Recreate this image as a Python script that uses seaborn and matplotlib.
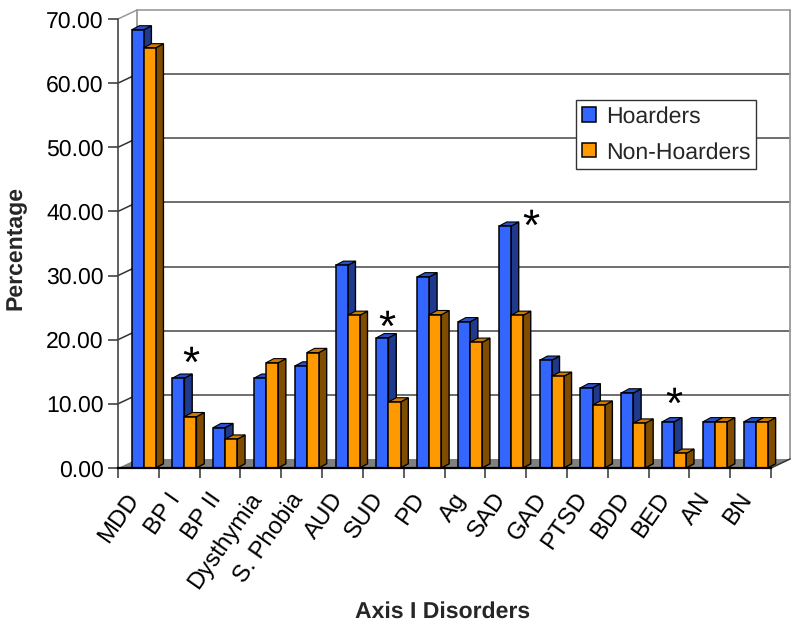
import numpy as np
import pandas as pd
import seaborn as sns
import matplotlib.pyplot as plt
from matplotlib.patches import Polygon

disorders = ['MDD', 'BP I', 'BP II', 'Dysthymia', 'S. Phobia', 'AUD', 'SUD', 'PD',
             'Ag', 'SAD', 'GAD', 'PTSD', 'BDD', 'BED', 'AN', 'BN']
hoarders = [68.3, 14.0, 6.3, 14.0, 15.9, 31.6, 20.3, 29.8, 22.8, 37.7, 16.8, 12.5, 11.7, 7.2, 7.2, 7.2]
non_hoarders = [65.5, 8.0, 4.5, 16.4, 18.0, 23.8, 10.3, 23.9, 19.6, 23.8, 14.3, 9.8, 7.0, 2.3, 7.2, 7.2]
y_ticks = [0, 10, 20, 30, 40, 50, 60, 70]
# significant disorders get an asterisk above the bars
starred = ['BP I', 'SUD', 'SAD', 'BED']
star_heights = [16.0, 21.6, 37.3, 9.6]
star_shift = [0.15, -0.05, 0.49, 0.0]

sns.set_theme(style='white')
plt.rcParams['font.family'] = ['Liberation Sans', 'DejaVu Sans']
plt.rcParams['text.hinting'] = 'no_hinting'
plt.rcParams['text.hinting_factor'] = 1

fig = plt.figure(figsize=(8, 6.29), dpi=100)
ax = fig.add_axes([118 / 800, (629 - 468) / 629, 653 / 800, 449 / 629])

df = pd.DataFrame({
    'disorder': disorders * 2,
    'pct': hoarders + non_hoarders,
    'group': ['Hoarders'] * 16 + ['Non-Hoarders'] * 16,
})
sns.barplot(data=df, x='disorder', y='pct', hue='group', ax=ax, width=0.59, gap=0,
            palette={'Hoarders': '#3366ff', 'Non-Hoarders': '#ff9900'},
            edgecolor='black', linewidth=1.1, saturation=1)

x0 = -0.627
ax.set_xlim(x0, x0 + 16)
ax.set_ylim(0, 70)

# sizes of the fake 3D effect, in data units (40.8 px per category, 6.414 px per percent)
wall_dx, wall_dy = 19 / 40.8, 9 / 6.414
bar_dx, bar_dy = 7.8 / 40.8, 4.2 / 6.414

# walls and floor
x1 = x0 + 16
ax.add_patch(Polygon([(x0, 0), (x0 + wall_dx, wall_dy), (x1 + wall_dx, wall_dy), (x1, 0)],
                     closed=True, fc='#808080', ec='none', zorder=0.5, clip_on=False))
wall_col = '#999999'
grid_col = '#555555'
for v in y_ticks[1:]:
    c = wall_col if v == 70 else grid_col
    ax.plot([x0 + wall_dx, x1 + wall_dx], [v + wall_dy, v + wall_dy], color=c, lw=1.2, zorder=1, clip_on=False)
    ax.plot([x0, x0 + wall_dx], [v, v + wall_dy], color=c if v == 70 else '#333333', lw=1.1, zorder=1, clip_on=False)
ax.plot([x0 + wall_dx, x0 + wall_dx], [wall_dy, 70 + wall_dy], color=wall_col, lw=1.3, zorder=1, clip_on=False)
ax.plot([x1 + wall_dx, x1 + wall_dx], [wall_dy, 70 + wall_dy], color=wall_col, lw=1.3, zorder=1, clip_on=False)
ax.plot([x1, x1 + wall_dx], [0, wall_dy], color='#333333', lw=1.1, zorder=1, clip_on=False)

# side and top faces on every bar
shades = [('#1f3a8c', '#2850c8', 3), ('#7f4c00', '#cc7a00', 4)]
for container, (side_col, top_col, z) in zip(ax.containers, shades):
    for bar in container:
        bar.set_zorder(z)
        l, w, h = bar.get_x(), bar.get_width(), bar.get_height()
        r = l + w
        ax.add_patch(Polygon([(r, 0), (r + bar_dx, bar_dy), (r + bar_dx, h + bar_dy), (r, h)], closed=True,
                             fc=side_col, ec='black', lw=1.0, zorder=z - 0.1, clip_on=False))
        ax.add_patch(Polygon([(l, h), (l + bar_dx, h + bar_dy), (r + bar_dx, h + bar_dy), (r, h)], closed=True,
                             fc=top_col, ec='black', lw=0.8, zorder=z - 0.1, clip_on=False))

for name, height, shift in zip(starred, star_heights, star_shift):
    ax.text(disorders.index(name) + shift, height, '*', fontsize=32, ha='center', va='center',
            color='black', zorder=6)

# axes and ticks
sns.despine(ax=ax, top=True, right=True)
ax.spines['left'].set_color('#444444')
ax.spines['left'].set_linewidth(1.2)
ax.spines['bottom'].set_color('black')
ax.spines['bottom'].set_linewidth(1.6)
ax.spines['bottom'].set_zorder(5)
ax.set_yticks(y_ticks)
ax.set_yticklabels([f'{v:.2f}' for v in y_ticks], fontsize=16.5, color='black')
ax.tick_params(axis='y', left=True, length=7.2, width=1.1, color='#333333', pad=3)

ax.set_xticks(np.arange(16) - 0.44)
ax.set_xticklabels(disorders, fontsize=17, color='black', rotation=55, ha='right', rotation_mode='anchor')
ax.set_xticks(x0 + np.arange(17), minor=True)
ax.tick_params(axis='x', which='major', bottom=False, length=0, pad=15)
ax.tick_params(axis='x', which='minor', bottom=True, length=7.2, width=1.1, color='#333333')

ax.set_xlabel('')
ax.set_ylabel('')
fig.text(16 / 800, 1 - 248 / 629, 'Percentage', rotation=90, fontsize=16.6, fontweight='bold', ha='center', va='center')
fig.text(443 / 800, 1 - 612 / 629, 'Axis I Disorders', fontsize=16.6, fontweight='bold', ha='center', va='center')

handles, labels = ax.get_legend_handles_labels()
ax.legend(handles, labels, loc='upper left', bbox_to_anchor=(458 / 653, (449 - 81) / 449), borderaxespad=0,
          fontsize=16.7, frameon=True, framealpha=1, fancybox=False, edgecolor='#333333', facecolor='white',
          handlelength=0.6, handleheight=0.6, handletextpad=0.45, labelspacing=0.62, borderpad=0.25).set_zorder(7)

fig.savefig('out.png', dpi=100)
